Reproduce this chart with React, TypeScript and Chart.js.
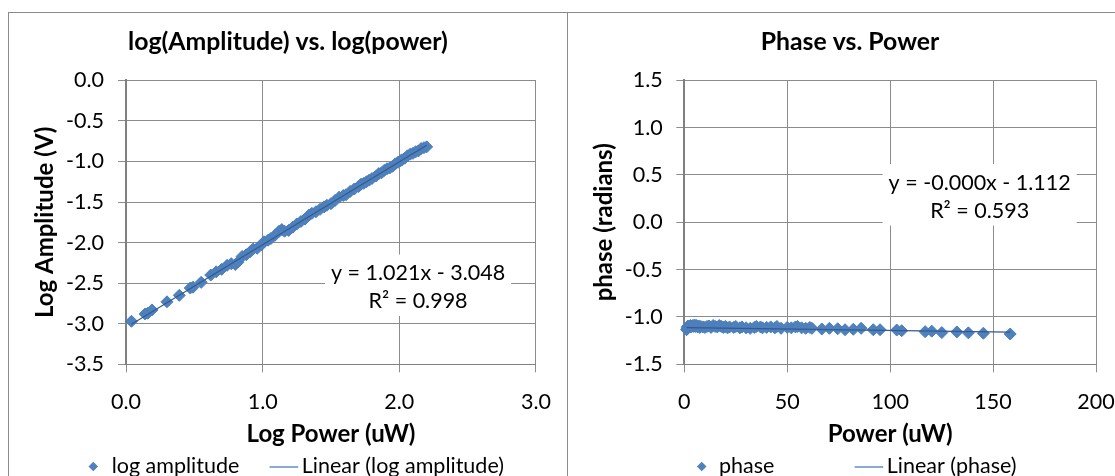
import React, { useEffect, useRef } from "react";
import { Chart, registerables } from "chart.js";

Chart.register(...registerables);

const FONT_FAMILY = "Lato, 'Liberation Sans', sans-serif";
const MARKER_FILL = "#4F81BD";
const MARKER_EDGE = "#4A7EBB";
const TREND_COLOR = "#34598E";
const GRID_COLOR = "#8C8C8C";
const AXIS_COLOR = "#808080";
const CHART_TITLE_SIZE = 24.8;
const TITLE_SIZE = 24;
const TICK_SIZE = 21.5;

// ---------- Left chart: log(Amplitude) vs. log(power) ----------
const logPower = [
  0.04, 0.14, 0.16, 0.19, 0.3, 0.39, 0.47, 0.49, 0.55, 0.62, 0.66, 0.7, 0.74, 0.77, 0.8, 0.82,
  0.85, 0.88, 0.91, 0.93, 0.96, 0.99, 1.01, 1.04, 1.06, 1.09, 1.12, 1.14, 1.16, 1.19, 1.22, 1.25,
  1.28, 1.31, 1.34, 1.36, 1.39, 1.42, 1.45, 1.47, 1.5, 1.53, 1.56, 1.59, 1.61, 1.64, 1.67, 1.7,
  1.72, 1.74, 1.76, 1.78, 1.8, 1.83, 1.85, 1.87, 1.89, 1.91, 1.93, 1.95, 1.97, 1.99, 2.01, 2.02,
  2.04, 2.06, 2.08, 2.1, 2.12, 2.14, 2.16, 2.18, 2.2,
];
const logAmplitude = [
  -2.97, -2.88, -2.87, -2.83, -2.73, -2.65, -2.56, -2.55, -2.49, -2.4, -2.36, -2.33, -2.28, -2.26,
  -2.27, -2.24, -2.17, -2.15, -2.11, -2.08, -2.07, -2.03, -1.99, -1.97, -1.95, -1.91, -1.86, -1.84,
  -1.86, -1.85, -1.81, -1.77, -1.74, -1.71, -1.66, -1.64, -1.62, -1.59, -1.56, -1.54, -1.52, -1.48,
  -1.44, -1.42, -1.41, -1.37, -1.34, -1.31, -1.28, -1.27, -1.25, -1.23, -1.21, -1.18, -1.15, -1.14,
  -1.11, -1.09, -1.08, -1.06, -1.03, -1.01, -0.99, -0.98, -0.96, -0.93, -0.91, -0.9, -0.88, -0.87,
  -0.84, -0.83, -0.82,
];
const leftTrendSlope = 1.021;
const leftTrendIntercept = -3.048;
const leftXTicks = [0, 1, 2, 3];
const leftXTickLabels = ["0.0", "1.0", "2.0", "3.0"];
const leftYTicks = [-3.5, -3, -2.5, -2, -1.5, -1, -0.5, 0];
const leftYTickLabels = ["-3.5", "-3.0", "-2.5", "-2.0", "-1.5", "-1.0", "-0.5", "0.0"];
const leftLabelLines = ["y = 1.021x - 3.048", "R² = 0.998"];

// ---------- Right chart: Phase vs. Power ----------
const power = [
  1.1, 1.4, 1.5, 1.6, 2.0, 2.5, 3.0, 3.2, 3.6, 4.2, 4.6, 5.0, 5.5, 6.0, 6.5, 7.0, 7.5, 8.0, 9.0, 10,
  11, 12, 13, 14, 15, 16, 17, 18, 19, 20, 21, 22, 24, 25, 27, 28, 30, 32, 34, 35, 37, 38, 40, 42,
  44, 45, 47, 50, 52, 54, 55, 57, 59, 61, 62, 66.8, 70.5, 74.5, 78.1, 82.1, 85.9, 91.8, 95.1,
  103.2, 105.6, 117, 120.2, 125.1, 132.4, 138, 145.3, 158.3,
];
const phase = [
  -1.135, -1.125, -1.11, -1.1, -1.095, -1.1, -1.09, -1.105, -1.1, -1.09, -1.1, -1.085, -1.1, -1.09,
  -1.105, -1.095, -1.11, -1.1, -1.105, -1.11, -1.1, -1.095, -1.11, -1.09, -1.1, -1.105, -1.09, -1.1,
  -1.11, -1.1, -1.115, -1.105, -1.11, -1.1, -1.115, -1.105, -1.115, -1.12, -1.11, -1.1, -1.105,
  -1.115, -1.11, -1.105, -1.115, -1.1, -1.12, -1.11, -1.115, -1.105, -1.1, -1.115, -1.12, -1.11,
  -1.12, -1.127, -1.12, -1.124, -1.135, -1.13, -1.12, -1.135, -1.135, -1.138, -1.145, -1.155, -1.15,
  -1.165, -1.158, -1.168, -1.172, -1.18,
];
const rightTrendSlope = -0.0003;
const rightTrendIntercept = -1.112;
const rightXTicks = [0, 50, 100, 150, 200];
const rightXTickLabels = ["0", "50", "100", "150", "200"];
const rightYTicks = [-1.5, -1, -0.5, 0, 0.5, 1, 1.5];
const rightYTickLabels = ["-1.5", "-1.0", "-0.5", "0.0", "0.5", "1.0", "1.5"];
const rightLabelLines = ["y = -0.000x - 1.112", "R² = 0.593"];

// ---------- plugins ----------
const trendLabelPlugin = {
  id: "trendLabel",
  beforeDatasetsDraw(chart: any, _args: any, opts: any) {
    if (!opts || !opts.lines) return;
    const { ctx, scales } = chart;
    const cx = scales.x.getPixelForValue(opts.x);
    const cy = scales.y.getPixelForValue(opts.y);
    const lines: string[] = [opts.lines[0], opts.lines[1]];
    ctx.save();
    ctx.font = `${TICK_SIZE}px ${FONT_FAMILY}`;
    const w = Math.max(...lines.map((l) => ctx.measureText(l).width)) + 12;
    ctx.fillStyle = "#ffffff";
    ctx.fillRect(cx - w / 2, cy - 33, w, 61.5);
    ctx.fillStyle = "#000000";
    ctx.textAlign = "center";
    ctx.textBaseline = "middle";
    lines.forEach((l, i) => ctx.fillText(l, cx, cy + (i - 0.5) * 28));
    ctx.restore();
  },
};

const legendPlugin = {
  id: "customLegend",
  afterDraw(chart: any, _args: any, opts: any) {
    if (!opts || opts.y === undefined) return;
    const { ctx } = chart;
    const y = opts.y;
    ctx.save();
    const r = 4.8;
    ctx.beginPath();
    ctx.moveTo(opts.markerX - r, y);
    ctx.lineTo(opts.markerX, y - r);
    ctx.lineTo(opts.markerX + r, y);
    ctx.lineTo(opts.markerX, y + r);
    ctx.closePath();
    ctx.fillStyle = MARKER_FILL;
    ctx.fill();
    ctx.beginPath();
    ctx.moveTo(opts.lineX1, y + 0.5);
    ctx.lineTo(opts.lineX2, y + 0.5);
    ctx.strokeStyle = MARKER_EDGE;
    ctx.lineWidth = 1.3;
    ctx.stroke();
    ctx.font = `${TICK_SIZE}px ${FONT_FAMILY}`;
    ctx.fillStyle = "#000000";
    ctx.textAlign = "left";
    ctx.textBaseline = "middle";
    ctx.fillText(opts.text1, opts.text1X, y - 0.5);
    ctx.fillText(opts.text2, opts.text2X, y - 0.5);
    ctx.restore();
  },
};

type Spec = {
  title: string;
  xTitle: string;
  yTitle: string;
  xs: number[];
  ys: number[];
  seriesName: string;
  slope: number;
  intercept: number;
  xTicks: number[];
  xTickLabels: string[];
  yTicks: number[];
  yTickLabels: string[];
  labelLines: string[];
  labelX: number;
  labelY: number;
  sidePad: number;
  yWidth: number;
  yTitleOffset: number;
  yTickPad: number;
  legend: any;
};

function buildConfig(s: Spec): any {
  const xMin = Math.min(...s.xs);
  const xMax = Math.max(...s.xs);
  const trend = [
    { x: xMin, y: s.slope * xMin + s.intercept },
    { x: xMax, y: s.slope * xMax + s.intercept },
  ];
  const chartTitleFont = { family: FONT_FAMILY, size: CHART_TITLE_SIZE, weight: "bold", lineHeight: 1.2 };
  const titleFont = { family: FONT_FAMILY, size: TITLE_SIZE, weight: "bold", lineHeight: 1.2 };
  const tickFont = { family: FONT_FAMILY, size: TICK_SIZE, lineHeight: 1.2 };
  const clh = CHART_TITLE_SIZE * 1.2;
  const lh = TITLE_SIZE * 1.2;
  return {
    type: "scatter",
    data: {
      datasets: [
        {
          label: "Linear (" + s.seriesName + ")",
          data: trend,
          showLine: true,
          borderColor: TREND_COLOR,
          borderWidth: 1.2,
          pointRadius: 0,
          order: 0,
          clip: false,
        },
        {
          label: s.seriesName,
          data: s.xs.map((x, i) => ({ x, y: s.ys[i] })),
          pointStyle: "rectRot",
          pointRadius: 6,
          backgroundColor: MARKER_FILL,
          borderColor: MARKER_EDGE,
          borderWidth: 1,
          showLine: false,
          order: 1,
          clip: false,
        },
      ],
    },
    options: {
      responsive: false,
      animation: false,
      devicePixelRatio: 1,
      layout: { padding: { left: s.sidePad, right: s.sidePad, top: 0, bottom: 0 } },
      plugins: {
        legend: { display: false },
        tooltip: { enabled: false },
        title: {
          display: true,
          text: s.title,
          color: "#000000",
          font: chartTitleFont,
          padding: { top: 42 - clh / 2, bottom: 80.3 - (42 - clh / 2) - clh },
        },
        trendLabel: { lines: s.labelLines, x: s.labelX, y: s.labelY },
        customLegend: s.legend,
      },
      scales: {
        x: {
          type: "linear",
          position: "bottom",
          min: s.xTicks[0],
          max: s.xTicks[s.xTicks.length - 1],
          afterBuildTicks: (sc: any) => {
            sc.ticks = s.xTicks.map((v) => ({ value: v }));
          },
          afterFit: (sc: any) => {
            sc.height = 111.7;
          },
          ticks: {
            color: "#000000",
            font: tickFont,
            padding: 17,
            maxRotation: 0,
            autoSkip: false,
            callback: (_v: any, i: number) => s.xTickLabels[i],
          },
          grid: { color: GRID_COLOR, lineWidth: 1, tickLength: 8, tickColor: GRID_COLOR },
          border: { display: true, color: AXIS_COLOR, width: 1 },
          title: {
            display: true,
            text: s.xTitle,
            color: "#000000",
            font: titleFont,
            padding: { top: 0, bottom: 42 - lh / 2 },
          },
        },
        y: {
          type: "linear",
          position: "left",
          min: s.yTicks[0],
          max: s.yTicks[s.yTicks.length - 1],
          afterBuildTicks: (sc: any) => {
            sc.ticks = s.yTicks.map((v) => ({ value: v }));
          },
          afterFit: (sc: any) => {
            sc.width = s.yWidth;
          },
          ticks: {
            color: "#000000",
            font: tickFont,
            padding: s.yTickPad,
            autoSkip: false,
            callback: (_v: any, i: number) => s.yTickLabels[i],
          },
          grid: { color: GRID_COLOR, lineWidth: 1, tickLength: 8, tickColor: GRID_COLOR },
          border: { display: true, color: AXIS_COLOR, width: 2 },
          title: {
            display: true,
            text: s.yTitle,
            color: "#000000",
            font: { ...titleFont, lineHeight: 1 },
            padding: { top: s.yTitleOffset - TITLE_SIZE / 2, bottom: 0 },
          },
        },
      },
    },
    plugins: [trendLabelPlugin, legendPlugin],
  };
}

function ChartCanvas({ left, width, spec }: { left: number; width: number; spec: Spec }) {
  const ref = useRef<HTMLCanvasElement | null>(null);
  useEffect(() => {
    if (!ref.current) return;
    const chart = new Chart(ref.current, buildConfig(spec));
    return () => chart.destroy();
  }, []);
  return (
    <canvas
      ref={ref}
      width={width}
      height={476}
      style={{ position: "absolute", left, top: 0, width, height: 476, display: "block" }}
    />
  );
}

const leftSpec: Spec = {
  title: "log(Amplitude) vs. log(power)",
  xTitle: "Log Power (uW)",
  yTitle: "Log Amplitude (V)",
  xs: logPower,
  ys: logAmplitude,
  seriesName: "log amplitude",
  slope: leftTrendSlope,
  intercept: leftTrendIntercept,
  xTicks: leftXTicks,
  xTickLabels: leftXTickLabels,
  yTicks: leftYTicks,
  yTickLabels: leftYTickLabels,
  labelLines: leftLabelLines,
  labelX: 2.137,
  labelY: -2.554,
  sidePad: 30.3,
  yWidth: 87.7,
  yTitleOffset: 7.4,
  yTickPad: 14,
  legend: {
    y: 466.5,
    markerX: 85.3,
    text1X: 103.7,
    text1: "log amplitude",
    lineX1: 261.6,
    lineX2: 290.2,
    text2X: 293.8,
    text2: "Linear (log amplitude)",
  },
};

const rightSpec: Spec = {
  title: "Phase vs. Power",
  xTitle: "Power (uW)",
  yTitle: "phase (radians)",
  xs: power,
  ys: phase,
  seriesName: "phase",
  slope: rightTrendSlope,
  intercept: rightTrendIntercept,
  xTicks: rightXTicks,
  xTickLabels: rightXTickLabels,
  yTicks: rightYTicks,
  yTickLabels: rightYTickLabels,
  labelLines: rightLabelLines,
  labelX: 143.5,
  labelY: 0.267,
  sidePad: 36,
  yWidth: 80.3,
  yTitleOffset: 0.6,
  yTickPad: 13.5,
  legend: {
    y: 466.5,
    markerX: 133.7,
    text1X: 151,
    text1: "phase",
    lineX1: 286.6,
    lineX2: 315.2,
    text2X: 318.8,
    text2: "Linear (phase)",
  },
};

export default function App() {
  return (
    <div
      style={{
        position: "absolute",
        left: 0,
        top: 0,
        width: 1115,
        height: 476,
        overflow: "hidden",
        background: "#ffffff",
      }}
    >
      <div
        style={{
          position: "absolute",
          left: 8,
          top: 12,
          width: 560,
          height: 500,
          boxSizing: "border-box",
          border: "1px solid #8A8A8A",
        }}
      />
      <div
        style={{
          position: "absolute",
          left: 567,
          top: 12,
          width: 600,
          height: 500,
          boxSizing: "border-box",
          border: "1px solid #8A8A8A",
        }}
      />
      <ChartCanvas left={8} width={560} spec={leftSpec} />
      <ChartCanvas left={568} width={564} spec={rightSpec} />
    </div>
  );
}
